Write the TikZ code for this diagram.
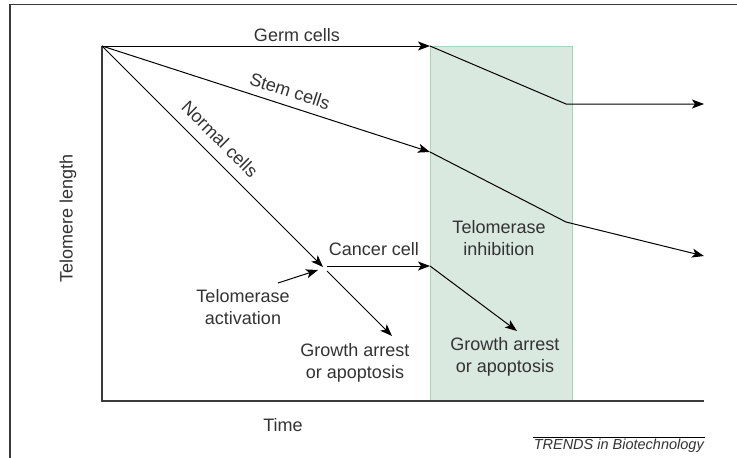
\documentclass[tikz,border=0pt]{standalone}
\usepackage{fontspec}
\setmainfont{Liberation Sans}
\usetikzlibrary{arrows.meta}
\definecolor{txt}{HTML}{333333}
\definecolor{axisc}{HTML}{3A3A3A}
\definecolor{boxfill}{HTML}{D9E9DF}
\definecolor{boxline}{HTML}{A9D3B8}
\begin{document}
\begin{tikzpicture}[x=1pt,y=-1pt,
  lbl/.style={text=txt,font=\fontsize{18}{21.5}\selectfont,align=center,inner sep=0pt},
  curve/.style={black,line width=1pt},
  arr/.style={curve,-{Stealth[length=12pt,width=9pt,inset=3pt]}},
  axisline/.style={axisc,line width=1.6pt}]
\useasboundingbox (0,0) rectangle (737,458);
\fill[white] (0,0) rectangle (737,458);
% frame
\coordinate (frameTR) at (737,4.5);
\coordinate (frameTL) at (10,4.5);
\coordinate (frameBL) at (10,458);
\draw[axisline] (frameTR) -- (frameTL) -- (frameBL);
% inhibition band
\node[draw=boxline,fill=boxfill,line width=1pt,minimum width=142pt,minimum height=355pt,inner sep=0pt,anchor=north west] (inhib) at (430,46) {};
% axes
\coordinate (O) at (102,46);
\coordinate (Ybot) at (102,401);
\coordinate (Xend) at (704,401);
\draw[axisline] (O) -- (Ybot) -- (Xend);
% points
\coordinate (g1) at (430,46);
\coordinate (g2) at (566,104);
\coordinate (g3) at (704,104);
\coordinate (s1) at (430,152);
\coordinate (s2) at (566,222);
\coordinate (s3) at (704,256);
\coordinate (n1) at (323,267);
\coordinate (n1b) at (327,271);
\coordinate (n2) at (392,336);
\coordinate (c0) at (327,266);
\coordinate (c1) at (430,266);
\coordinate (c2) at (517,331);
\coordinate (a0) at (278,283);
\coordinate (a1) at (318,270);
% germ cells
\draw[arr] (O) -- (g1);
\draw[arr] (g1) -- (g2) -- (g3);
% stem cells
\draw[arr] (O) -- (s1);
\draw[arr] (s1) -- (s2) -- (s3);
% normal cells
\draw[arr] (O) -- (n1);
\draw[arr] (n1b) -- (n2);
% cancer cell
\draw[arr] (c0) -- (c1);
\draw[arr] (c1) -- (c2);
% telomerase activation
\draw[arr] (a0) -- (a1);
% labels
\node[lbl] (tGerm) at (297,35) {Germ cells};
\node[lbl,rotate=-18] (tStem) at (290,91) {Stem cells};
\node[lbl,rotate=-45] (tNormal) at (220,139) {Normal cells};
\node[lbl,rotate=90] (tY) at (68,218) {Telomere length};
\node[lbl] (tTime) at (283,425) {Time};
\node[lbl] (tCancer) at (374,249) {Cancer cell};
\node[lbl] (tInhib) at (499,238) {Telomerase\\inhibition};
\node[lbl] (tAct) at (243,307) {Telomerase\\activation};
\node[lbl] (tGA1) at (355,363) {Growth arrest\\or apoptosis};
\node[lbl] (tGA2) at (505,357) {Growth arrest\\or apoptosis};
% source
\coordinate (ovL) at (533,437);
\coordinate (ovR) at (705,437);
\draw[black,line width=1pt] (ovL) -- (ovR);
\node[text=txt,font=\fontsize{14.5}{16}\itshape,inner sep=0pt,anchor=east] (src) at (704,446) {TRENDS in Biotechnology};
\end{tikzpicture}
\end{document}
